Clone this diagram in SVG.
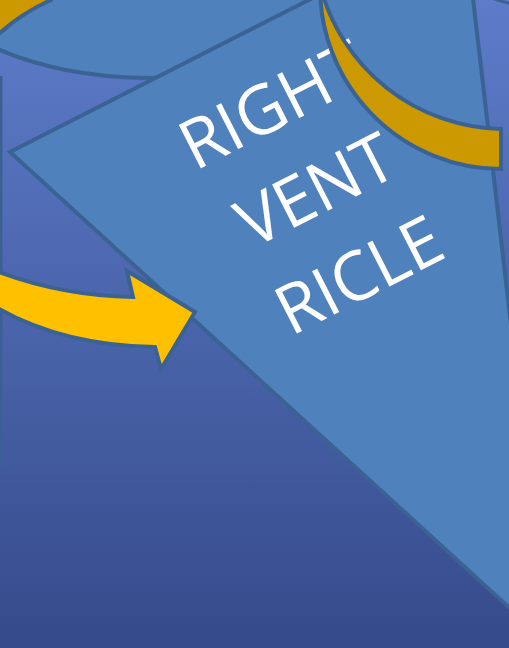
<svg xmlns="http://www.w3.org/2000/svg" width="509" height="648" viewBox="0 0 509 648">
  <defs>
    <linearGradient id="bg" x1="0" y1="0" x2="0" y2="1">
      <stop offset="0" stop-color="#5d7bc9"/>
      <stop offset="0.55" stop-color="#4862a8"/>
      <stop offset="1" stop-color="#354a8a"/>
    </linearGradient>
    <style>
      .edge { stroke: #3a6394; stroke-width: 4; stroke-linejoin: miter; }
      .blue { fill: #4f81bd; }
      .gold { fill: #cc9900; }
      .yellow { fill: #ffc000; }
      .label { font-family: "Open Sans", "Liberation Sans", sans-serif; font-size: 68px; fill: #ffffff; text-anchor: middle; }
    </style>
  </defs>

  <rect id="background" x="0" y="0" width="509" height="648" fill="url(#bg)"/>

  <g id="left-edge">
    <line x1="1" y1="76" x2="1" y2="468" stroke="#3d6094" stroke-width="3"/>
  </g>

  <g id="top-left-lobe">
    <ellipse class="blue edge" cx="150" cy="-40" rx="232" ry="118"/>
  </g>

  <g id="top-left-arc">
    <path class="gold edge" d="M -20,-20 L 62,-20 L 51,0 Q 22,13 0,33 L -20,46 Z"/>
  </g>

  <g id="right-ventricle">
    <polygon class="blue edge" points="10,152 464,-79 548,643"/>
    <g transform="rotate(-27)">
      <text class="label" x="195" y="241">RIGHT</text>
      <text class="label" x="195" y="336.5">VENT</text>
      <text class="label" x="195" y="432">RICLE</text>
    </g>
  </g>

  <g id="connectors">
    <path id="inflow-arrow" class="yellow edge" d="M -6,270 C 40,288 90,296 133,297 L 127,271 L 195,312 L 161,369 L 155,347 C 100,346 45,336 -6,306 Z"/>
    <path id="outflow-arc" class="gold edge" d="M 320,-15 A 182,182 0 0 0 501,169 L 501,129 A 191,191 0 0 1 320,-15 Z"/>
    <path id="top-right-edge" d="M 488,-3 Q 500,1 512,4" fill="none" stroke="#3a6394" stroke-width="3"/>
  </g>
</svg>
